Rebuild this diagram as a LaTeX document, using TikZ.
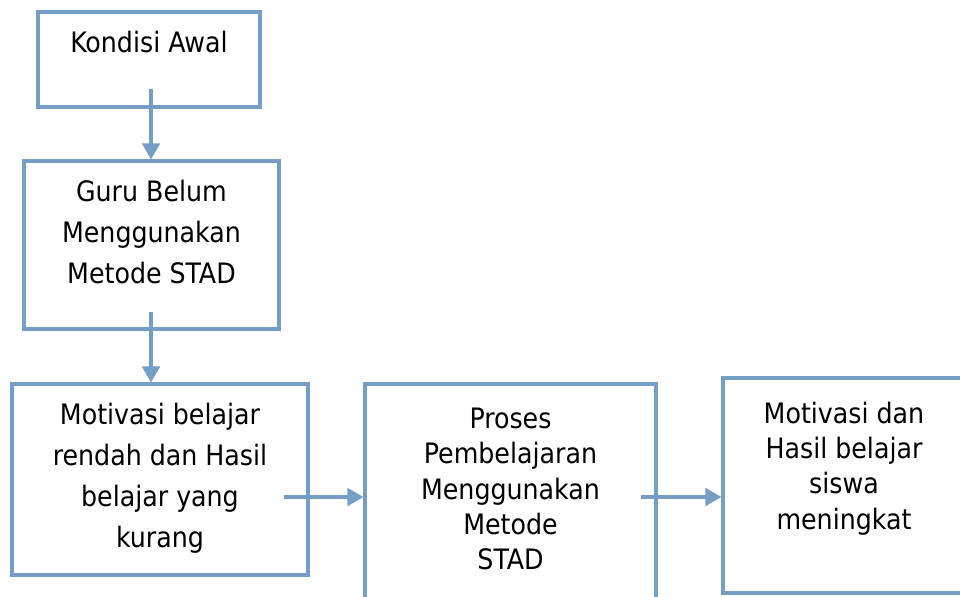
\documentclass[tikz,border=0pt]{standalone}
\usepackage{fontspec}
\setmainfont{DejaVu Sans Condensed}
\usetikzlibrary{arrows.meta,positioning}
\definecolor{garis}{RGB}{116,158,198}

\begin{document}
\begin{tikzpicture}[x=0.025cm,y=-0.025cm,>={Triangle[length=0.4cm,width=0.44cm]}]
  \tikzstyle{kotak}=[draw=garis,line width=2.2pt,minimum width=5cm,inner sep=0pt]
  \tikzstyle{isi}=[anchor=north,align=center,inner sep=0pt,yshift=-0.52cm,font=\fontsize{20}{29}\selectfont]
  \tikzstyle{isirapat}=[isi,yshift=-0.12cm,font=\fontsize{20}{25}\selectfont]
  \tikzstyle{panah}=[draw=garis,fill=garis,line width=2.2pt,->]
  \useasboundingbox (0,0) rectangle (960,597);
  \node[kotak,minimum width=5.55cm,minimum height=2.375cm] (awal) at (149,59.5) {};
  \node[kotak,minimum width=6.375cm,minimum height=4.2cm] (guru) at (151.5,245) {};
  \node[kotak,minimum width=7.4cm,minimum height=4.775cm] (rendah) at (160,479.5) {};
  \node[kotak,minimum width=7.275cm,minimum height=6.4cm] (proses) at (510.5,512) {};
  \node[kotak,minimum width=6.05cm,minimum height=5.375cm] (hasil) at (844,485.5) {};
  \node[isi] (awaltxt) at (awal.north) {Kondisi Awal};
  \node[isi] (gurutxt) at (guru.north) {Guru Belum\\Menggunakan\\Metode STAD};
  \node[isi] (rendahtxt) at (rendah.north) {Motivasi belajar\\rendah dan Hasil\\belajar yang\\kurang};
  \node[isirapat] (prosestxt) at (proses.north) {Proses\\Pembelajaran\\Menggunakan\\Metode\\STAD};
  \node[isirapat] (hasiltxt) at (hasil.north) {Motivasi dan\\Hasil belajar\\siswa\\meningkat};
  \coordinate (p1) at (151,89);
  \coordinate (p2) at (151,312);
  \coordinate (p3) at (284,497);
  \coordinate (p4) at (641,497);
  \draw[panah] (p1) -- (p1 |- guru.north);
  \draw[panah] (p2) -- (p2 |- rendah.north);
  \draw[panah] (p3) -- (p3 -| proses.west);
  \draw[panah] (p4) -- (p4 -| hasil.west);
\end{tikzpicture}
\end{document}
